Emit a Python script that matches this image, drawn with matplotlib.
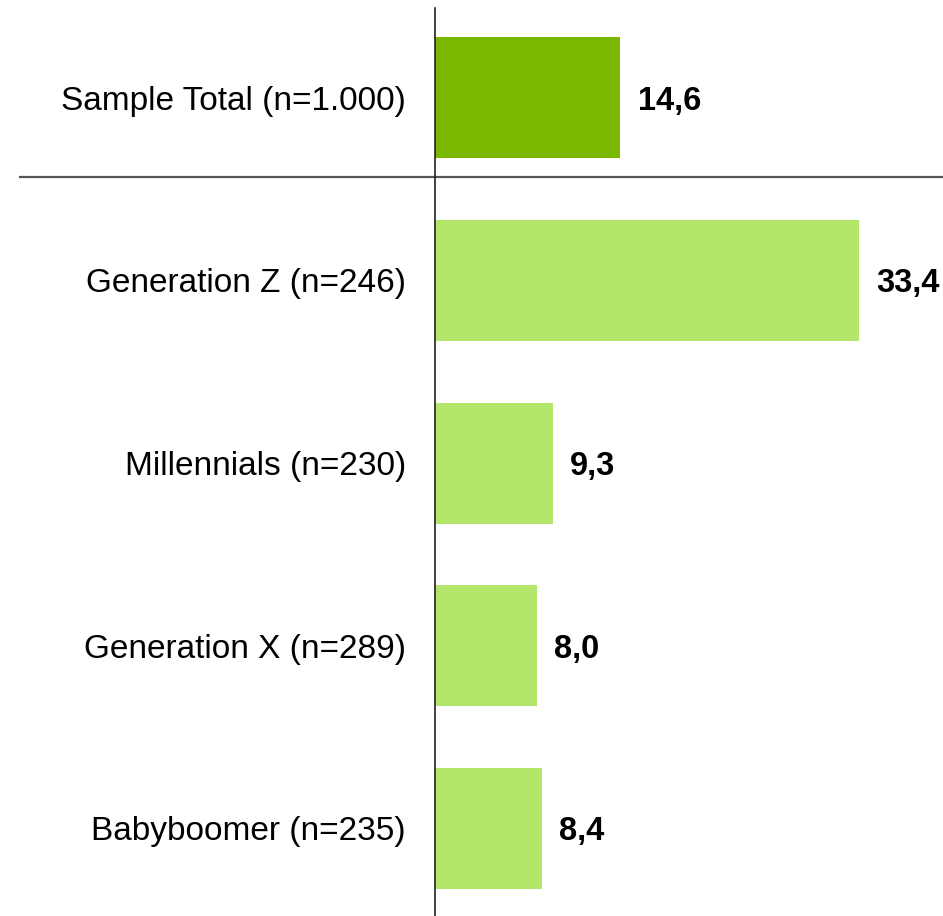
import numpy as np
import matplotlib
matplotlib.use("Agg")
import matplotlib.pyplot as plt
import matplotlib.transforms as mtransforms

# data
categories = ['Sample Total (n=1.000)', 'Generation Z (n=246)', 'Millennials (n=230)',
              'Generation X (n=289)', 'Babyboomer (n=235)']
values = [14.6, 33.4, 9.3, 8.0, 8.4]
bar_colors = ['#7ab800', '#b3e66b', '#b3e66b', '#b3e66b', '#b3e66b']

plt.rcParams['font.family'] = ['Liberation Sans', 'DejaVu Sans']

fig = plt.figure(figsize=(9.43, 9.16), dpi=100)
ax = fig.add_axes([435 / 943, 0, 1 - 435 / 943, 1 - 8 / 916])

y = np.arange(len(categories))
ax.barh(y, values, height=0.663, color=bar_colors)
ax.set_xlim(0, 40)
ax.set_ylim(4.482, -0.493)

for yi, v in zip(y, values):
    ax.text(v + 1.35, yi, '{:.1f}'.format(v).replace('.', ','), ha='left', va='center_baseline',
            fontsize=23.5, fontweight='bold', color='black')

ax.set_yticks(y)
ax.set_yticklabels(categories, fontsize=24)
ax.tick_params(axis='y', length=0, pad=21)
ax.set_xticks([])
for side in ['top', 'right', 'bottom']:
    ax.spines[side].set_visible(False)
ax.spines['left'].set_color('#222222')
ax.spines['left'].set_linewidth(1.2)

# separator under the total
trans = mtransforms.blended_transform_factory(fig.transFigure, ax.transData)
ax.plot([20 / 943, 1], [0.433, 0.433], transform=trans, color='#555555', lw=1.6, clip_on=False)

fig.savefig('out.png', dpi=100)
